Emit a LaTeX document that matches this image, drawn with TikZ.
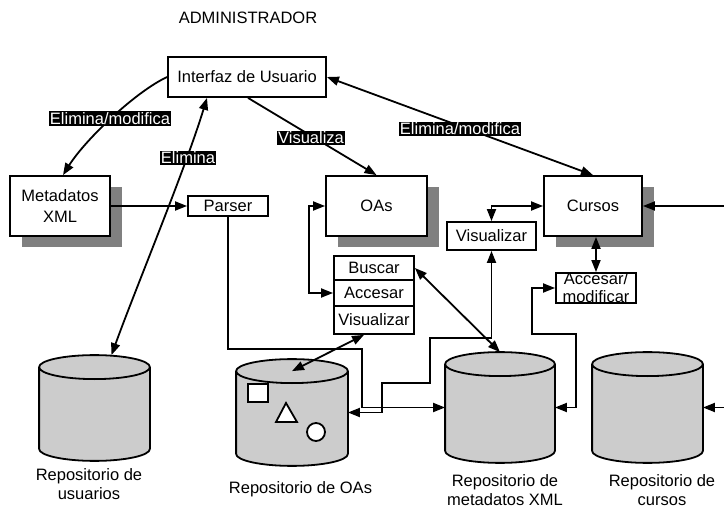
\documentclass[tikz,border=0pt]{standalone}
\usepackage{fontspec}
\setmainfont{Liberation Sans}
\usetikzlibrary{arrows.meta,shadows,calc}

\definecolor{sombra}{HTML}{808080}
\definecolor{relleno}{HTML}{CCCCCC}

% cilindro dibujado alrededor de un nodo vacio
\newcommand{\repo}[1]{%
  \draw[fill=relleno] let \p1=(#1.north west), \p2=(#1.south east), \n1={(\x2-\x1)/2} in
    (\x1,\y1-12pt) -- (\x1,\y2+12pt)
    arc[start angle=180, end angle=360, x radius=\n1*1pt, y radius=12pt]
    -- (\x2,\y1-12pt)
    arc[start angle=0, end angle=180, x radius=\n1*1pt, y radius=12pt] -- cycle
    (\x1,\y1-12pt) arc[start angle=180, end angle=360, x radius=\n1*1pt, y radius=12pt];}

\begin{document}
\begin{tikzpicture}[x=1pt,y=-1pt, line width=1.8pt, >={Triangle[length=12pt,width=9pt]},
  every node/.style={font=\fontsize{16.5}{19.5}\selectfont},
  caja/.style={draw, fill=white, inner sep=0pt},
  sombreada/.style={caja, general shadow={fill=sombra, shadow xshift=12pt, shadow yshift=-11pt}},
  etiqueta/.style={fill=black, text=white, inner sep=1pt},
  cuerpo/.style={inner sep=0pt}]
 \useasboundingbox (0,0) rectangle (724,508);

 \node[anchor=base] (admin) at (248,24) {ADMINISTRADOR};
 \node[caja, minimum width=158pt, minimum height=40pt] (ui) at (247,77) {Interfaz de Usuario};
 \node[sombreada, minimum width=100pt, minimum height=60pt, align=center,
       font=\fontsize{16.5}{21}\selectfont] (md) at (60,206) {Metadatos\\XML};
 \node[caja, minimum width=80pt, minimum height=20pt] (ps) at (228,206) {Parser};
 \node[sombreada, minimum width=101pt, minimum height=60pt] (oa) at (376.5,206) {OAs};
 \node[sombreada, minimum width=98pt, minimum height=60pt] (cu) at (593,206) {Cursos};
 \node[caja, minimum width=89pt, minimum height=28pt] (vc) at (491.5,236) {Visualizar};
 \node[caja, minimum width=80pt, minimum height=28pt, align=center,
       font=\fontsize{16.5}{18}\selectfont] (am) at (596,288) {Accesar/\\modificar};
 \node[caja, minimum width=80pt, minimum height=24pt] (bu) at (374,268) {Buscar};
 \node[caja, minimum width=80pt, minimum height=26pt] (ac) at (374,293) {Accesar};
 \node[caja, minimum width=80pt, minimum height=28pt] (vo) at (374,320) {Visualizar};

 % repositorios
 \node[cuerpo, minimum width=109pt, minimum height=104pt] (rU) at (94.5,408) {};
 \node[cuerpo, minimum width=110pt, minimum height=105pt] (rO) at (292,412.5) {};
 \node[cuerpo, minimum width=108pt, minimum height=109pt] (rM) at (500,407.5) {};
 \node[cuerpo, minimum width=109pt, minimum height=109pt] (rC) at (647.5,407.5) {};
 \repo{rU} \repo{rO} \repo{rM} \repo{rC}

 \draw[fill=white] (248,384) rectangle (268,402);
 \draw[fill=white] (286,403) -- (276,422) -- (297,422) -- cycle;
 \draw[fill=white] (316,432) circle[radius=9pt];

 \node[align=center] (tU) at (89,484) {Repositorio de\\usuarios};
 \node (tO) at (300.5,489) {Repositorio de OAs};
 \node[align=center] (tM) at (505,490) {Repositorio de\\metadatos XML};
 \node[align=center] (tC) at (662,490) {Repositorio de\\cursos};

 % conexiones
 \coordinate (jA) at (362,349);
 \coordinate (b1) at (382,383);
 \coordinate (b2) at (430,338);
 \coordinate (c1) at (532,334);
 \coordinate (c2) at (576,334);
 \coordinate (e1) at (724,206);
 \coordinate (e2) at (724,407.5);

 \draw[->] (ui.west) .. controls (135,92) and (85,140) .. ([xshift=3pt]md.north);
 \draw[<->] ([xshift=17pt]rU.north) .. controls (135,290) and (185,170) .. ([xshift=-40pt]ui.south);
 \draw[->] ([xshift=1pt]ui.south) -- (oa.north);
 \draw[<->] (ui.east) -- (cu.north);
 \draw[->] (md) -- (ps);
 \draw[->] (ps.south) |- (jA) |- (rM.west);
 \draw[<->] (vc.south) |- (b2) |- (b1) |- (rO.east);
 \draw[<->] (bu.east) -- (rM.north);
 \draw[<->] ([xshift=-10pt]vo.south) -- ([yshift=-12pt]rO.north);
 \draw[<->] (oa.west) -- ++(-16,0) |- (ac.west);
 \draw[<->] (cu.west) -| (vc.north);
 \draw[<->] (am.north |- cu.south) -- (am.north);
 \draw[<->] (am.west) -| (c1) -- (c2) |- (rM.east);
 \draw[->] (e1) -- (cu.east);
 \draw[->] (e2) -- (rC.east);

 \node[etiqueta] (l1) at (110,118.5) {Elimina/modifica};
 \node[etiqueta] (l2) at (188,158) {Elimina};
 \node[etiqueta] (l3) at (311,138) {Visualiza};
 \node[etiqueta] (l4) at (460,129) {Elimina/modifica};
\end{tikzpicture}
\end{document}
